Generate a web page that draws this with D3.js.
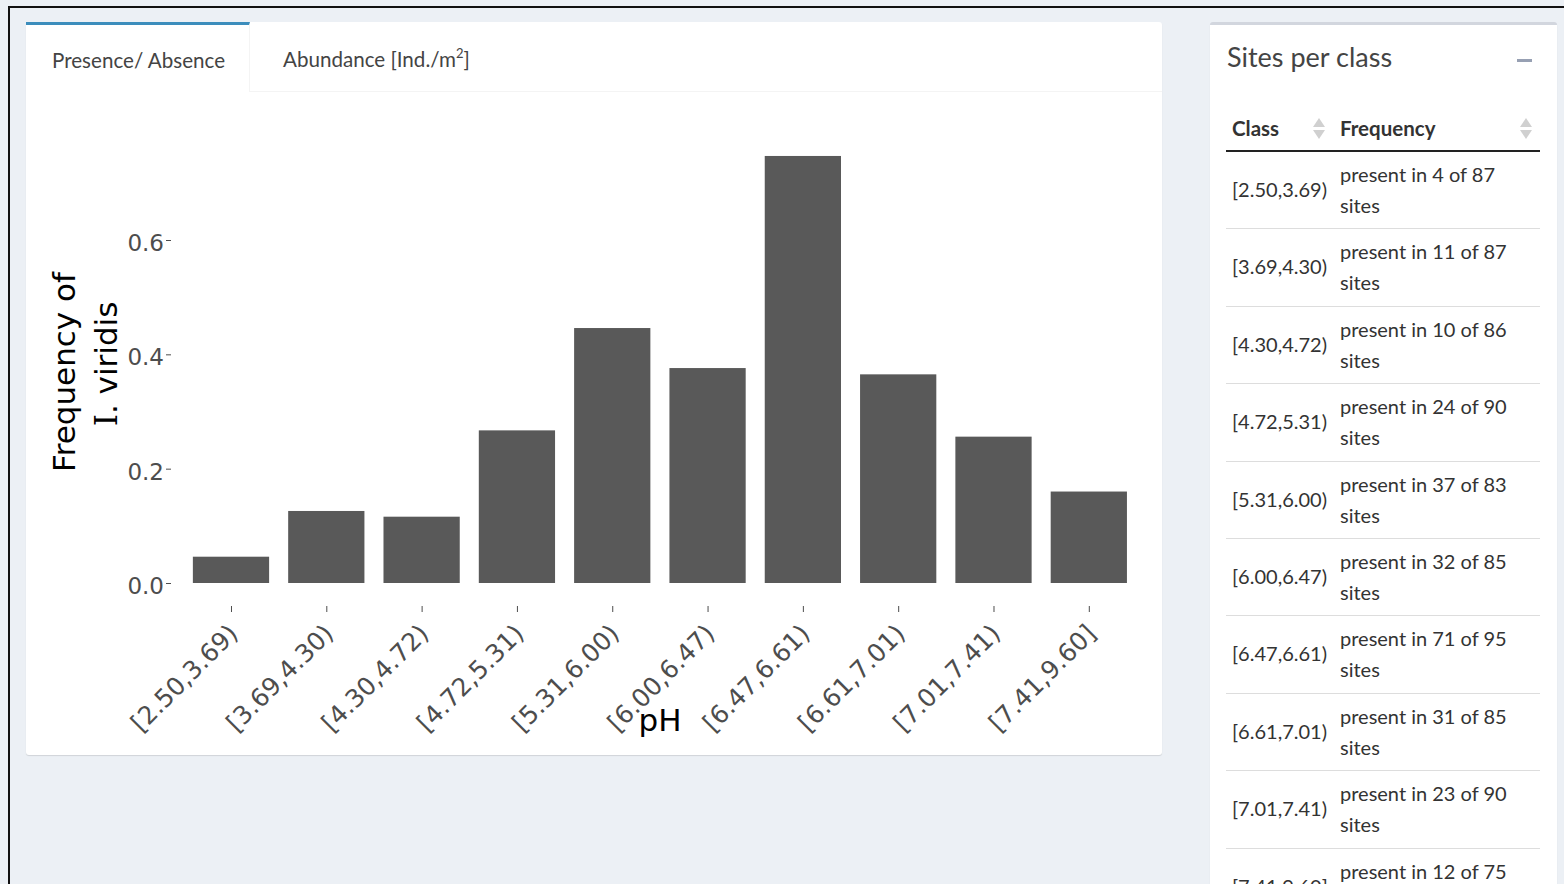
<!DOCTYPE html>
<html>
<head>
<meta charset="utf-8">
<script src="https://cdn.jsdelivr.net/npm/d3@7"></script>
<style>
  body { margin: 0; width: 1564px; height: 884px; overflow: hidden; background: #ecf0f5; position: relative;
         font-family: "Source Sans Pro", Lato, sans-serif; color: #333; }
  .frame-top { position: absolute; left: 8px; top: 6px; width: 1556px; height: 2px; background: #111; }
  .frame-left { position: absolute; left: 8px; top: 6px; width: 2px; height: 878px; background: #111; }
  .box { position: absolute; background: #fff; box-shadow: 0 1px 1px rgba(0,0,0,0.12); border-radius: 3px; }
  .tabs { position: absolute; left: 0; top: 0; right: 0; height: 69px; border-bottom: 1px solid #f4f4f4; }
  .tab { position: absolute; top: 0; height: 69px; line-height: 74px; font-size: 20.6px; color: #444; }
  .tab.active { border-top: 3px solid #3c8dbc; background: #fff; line-height: 70px;
                border-right: 1px solid #f4f4f4; box-sizing: border-box; height: 70px; }
  .sup { position: relative; top: -9px; font-size: 13px; line-height: 0; }
  .title { position: absolute; left: 17px; top: 15px; font-size: 27px; color: #444; }
  .minus { position: absolute; left: 307px; top: 34px; width: 15px; height: 3px; background: #97a0b3; }
  .th { position: absolute; font-size: 20.5px; font-weight: bold; color: #333; }
  .sort { position: absolute; }
  .td { position: absolute; font-size: 20px; color: #333; line-height: 31px; }
  .rowline { position: absolute; height: 1px; background: #ddd; }
  #chart { position: absolute; left: 0; top: 0; }
</style>
</head>
<body>
<div class="frame-top"></div>
<div class="frame-left"></div>
<div id="left" class="box" style="left:26px; top:22px; width:1136px; height:733px;"></div>
<div id="right" class="box" style="left:1210px; top:22px; width:347px; height:880px; border-top:3px solid #d2d6de;"></div>
<svg id="chart" width="1564" height="884"></svg>
<script>
/* Data */
const classes = ['[2.50,3.69)', '[3.69,4.30)', '[4.30,4.72)', '[4.72,5.31)', '[5.31,6.00)',
                 '[6.00,6.47)', '[6.47,6.61)', '[6.61,7.01)', '[7.01,7.41)', '[7.41,9.60]'];
const frequency = [0.046, 0.126, 0.116, 0.267, 0.446, 0.376, 0.747, 0.365, 0.256, 0.160];
const presentSites = [4, 11, 10, 24, 37, 32, 71, 31, 23, 12];
const totalSites = [87, 87, 86, 90, 83, 85, 95, 85, 90, 75];
const yTicks = [0.0, 0.2, 0.4, 0.6];
const tabLabels = ['Presence/ Absence', 'Abundance [Ind./m', '2', ']'];

/* Tabs on the left box */
const left = d3.select('#left');
const tabs = left.append('div').attr('class', 'tabs');
tabs.append('div').attr('class', 'tab active')
    .style('left', '0px').style('width', '224px').style('padding-left', '26px')
    .text(tabLabels[0]);
const tab2 = tabs.append('div').attr('class', 'tab').style('left', '257px');
tab2.append('span').text(tabLabels[1]);
tab2.append('span').attr('class', 'sup').text(tabLabels[2]);
tab2.append('span').text(tabLabels[3]);

/* Chart */
const svg = d3.select('#chart');
const plot = { left: 171, right: 1146, bottom: 583 };

const x = d3.scalePoint()
    .domain(classes)
    .range([plot.left + 2.8, plot.right])
    .padding(0.6);
const barWidth = x.step() * 0.8;

const y = d3.scaleLinear()
    .domain([0, 0.6])
    .range([plot.bottom, 240]);

svg.append('g')
    .selectAll('rect')
    .data(classes)
    .join('rect')
    .attr('x', (d) => x(d) - barWidth / 2)
    .attr('y', (d, i) => y(frequency[i]))
    .attr('width', barWidth)
    .attr('height', (d, i) => plot.bottom - y(frequency[i]))
    .attr('fill', '#595959');

const axisFont = '"DejaVu Sans", Verdana, sans-serif';

/* Y axis */
const yAxis = svg.append('g')
    .attr('transform', `translate(${plot.left},0)`)
    .call(d3.axisLeft(y).tickValues(yTicks).tickFormat(d3.format('.1f')).tickSize(5).tickPadding(2));
yAxis.select('.domain').remove();
yAxis.selectAll('line').attr('stroke', '#4d4d4d');
yAxis.selectAll('text')
    .attr('dy', '0.45em')
    .style('font-family', axisFont)
    .style('font-size', '23px')
    .attr('fill', '#4d4d4d');

/* X axis */
const xAxis = svg.append('g')
    .attr('transform', 'translate(0,606)')
    .call(d3.axisBottom(x).tickSize(6));
xAxis.select('.domain').remove();
xAxis.selectAll('line').attr('stroke', '#4d4d4d');
xAxis.selectAll('text')
    .attr('x', 0).attr('y', 0).attr('dy', 0)
    .attr('text-anchor', 'end')
    .attr('transform', 'translate(8,29) rotate(-45)')
    .style('font-family', axisFont)
    .style('font-size', '25px')
    .attr('fill', '#4d4d4d');

/* Axis titles */
svg.append('text')
    .attr('transform', 'translate(75,372) rotate(-90)')
    .attr('text-anchor', 'middle')
    .style('font-family', axisFont).style('font-size', '31px')
    .text('Frequency of');
const t2 = svg.append('text')
    .attr('transform', 'translate(117,364) rotate(-90)')
    .attr('text-anchor', 'middle')
    .style('font-family', axisFont).style('font-size', '31px');
t2.append('tspan').style('font-family', '"DejaVu Serif", serif').text('I');
t2.append('tspan').text('. viridis');
svg.append('text')
    .attr('x', 660).attr('y', 731)
    .attr('text-anchor', 'middle')
    .style('font-family', axisFont).style('font-size', '31px')
    .text('pH');

/* Right box: sites per class table */
const right = d3.select('#right');
right.append('div').attr('class', 'title').text('Sites per class');
right.append('div').attr('class', 'minus');

const tableLeft = 16, tableWidth = 314;
right.append('div').attr('class', 'th').style('left', '22px').style('top', '91px').text('Class');
right.append('div').attr('class', 'th').style('left', '130px').style('top', '91px').text('Frequency');

function sortIcon(leftPx) {
    const s = right.append('svg').attr('class', 'sort')
        .style('left', leftPx + 'px').style('top', '90px')
        .attr('width', 14).attr('height', 28);
    s.append('path').attr('d', 'M1,12 L7,3 L13,12 Z').attr('fill', '#d0d0d0');
    s.append('path').attr('d', 'M1,15 L7,24 L13,15 Z').attr('fill', '#d0d0d0');
}
sortIcon(102);
sortIcon(309);

right.append('div').attr('class', 'rowline')
    .style('left', tableLeft + 'px').style('width', tableWidth + 'px')
    .style('top', '125px').style('height', '2px').style('background', '#222');

const rowStep = 77.4;
const rowTop = 127;
classes.forEach((c, i) => {
    const top = rowTop + i * rowStep;
    right.append('div').attr('class', 'td')
        .style('left', '22px').style('top', (top + 22) + 'px')
        .text(c);
    right.append('div').attr('class', 'td')
        .style('left', '130px').style('top', (top + 7) + 'px')
        .html(`present in ${presentSites[i]} of ${totalSites[i]}<br>sites`);
    right.append('div').attr('class', 'rowline')
        .style('left', tableLeft + 'px').style('width', tableWidth + 'px')
        .style('top', (top + rowStep - 1) + 'px');
});
</script>
</body>
</html>
